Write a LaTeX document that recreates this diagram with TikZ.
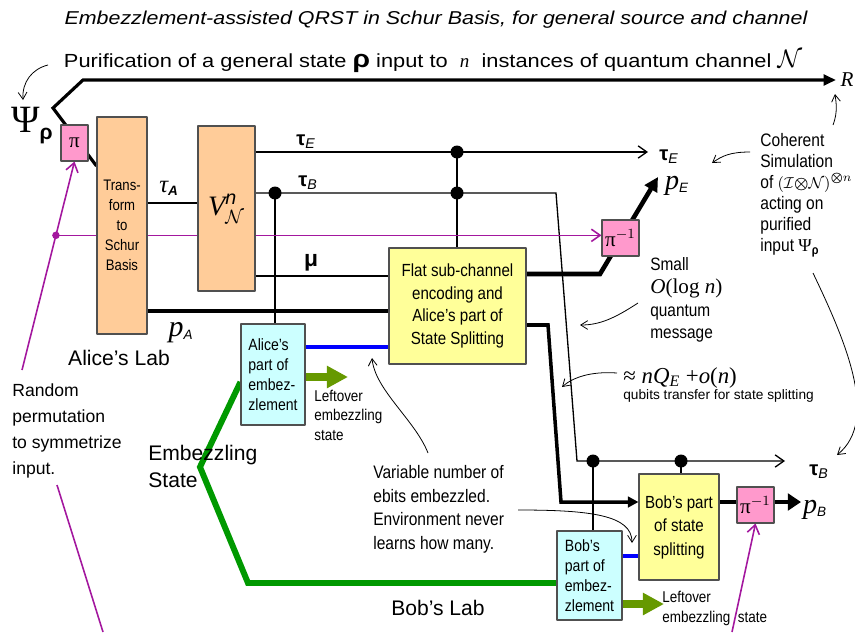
\documentclass[tikz,border=0pt]{standalone}
\usepackage{fontspec}
\usepackage{amsmath,amssymb}
\setmainfont{Liberation Sans}
\newfontfamily\serif{Liberation Serif}
\newfontfamily\narrow[FakeStretch=0.86]{Liberation Sans}
\newfontfamily\wide[FakeStretch=1.15]{Liberation Sans}
\usetikzlibrary{arrows.meta,backgrounds}
\definecolor{peach}{HTML}{FFCC99}
\definecolor{lemon}{HTML}{FFFF99}
\definecolor{ice}{HTML}{CCFFFF}
\definecolor{rose}{HTML}{FF99CC}
\definecolor{plum}{HTML}{A3179E}
\definecolor{leaf}{HTML}{009900}
\definecolor{olive}{HTML}{669900}
\definecolor{edge}{HTML}{505050}
\begin{document}
\begin{tikzpicture}[x=0.02cm, y=-0.02cm, line join=round,
  >={Straight Barb[length=5pt,width=7pt]},
  wire/.style={line width=0.75pt},
  fat/.style={line width=2.6pt},
  note/.style={line width=0.45pt, >={Straight Barb[length=4pt,width=5pt]}, ->},
  mag/.style={plum, line width=0.9pt},
  blk/.style={draw=edge, line width=0.6pt, inner sep=0pt, align=center},
  sch/.style={blk, fill=peach},
  flt/.style={blk, fill=lemon},
  emb/.style={blk, fill=ice},
  perm/.style={blk, fill=rose, font=\serif\fontsize{12}{12}\selectfont},
  txt/.style={inner sep=0pt, anchor=north west, align=left}]
\useasboundingbox (0,0) rectangle (855,632);
\coordinate (fork) at (53,108);
\coordinate (kink) at (83,80);
\coordinate (Rend) at (836,80);
\coordinate (yFork) at (0,166);
\coordinate (yTA) at (0,203);
\coordinate (yTE) at (0,152);
\coordinate (yTB) at (0,193);
\coordinate (yMu) at (0,276);
\coordinate (yPA) at (0,311);
\coordinate (yPE) at (0,274);
\coordinate (yPB) at (0,325);
\coordinate (yBA) at (0,347);
\coordinate (yGA) at (0,382);
\coordinate (yOA) at (0,377);
\coordinate (yBob) at (0,502);
\coordinate (yBB) at (0,556);
\coordinate (yGB) at (0,583);
\coordinate (yOB) at (0,604);
\coordinate (teEnd) at (648,152);
\coordinate (tbA) at (556,193);
\coordinate (tbB) at (577,461);
\coordinate (tbEnd) at (785,461);
\coordinate (peK) at (600,274);
\coordinate (peEnd) at (658,177);
\coordinate (pbK1) at (548,325);
\coordinate (pbK2) at (561,502);
\coordinate (pbEnd) at (801,502);
\coordinate (gV) at (200,467);
\coordinate (gC) at (248,583);
\coordinate (oAend) at (348,377);
\coordinate (oBend) at (664,604);
\coordinate (dA) at (275,193);
\coordinate (dE1) at (457,152);
\coordinate (dE2) at (457,193);
\coordinate (dB1) at (593,461);
\coordinate (dB2) at (681,461);
\coordinate (rp) at (22,370);
\coordinate (m1) at (57,485);
\coordinate (m2) at (103,632);
\coordinate (m3) at (732,632);

\node[perm, minimum width=0.54cm, minimum height=0.72cm] (pi) at (74.5,143) {π};
\node[sch, minimum width=1cm, minimum height=4.34cm, font=\narrow\fontsize{8.7}{11.4}\selectfont] (schur) at (122,225.5) {Trans-\\form\\to\\Schur\\Basis};
\node[sch, minimum width=1.14cm, minimum height=3.3cm, font=\fontsize{16}{16}\selectfont] (chan) at (226.5,208.5) {{\serif\itshape V}$_{\mathcal N}^{\textit{n}}$};
\node[flt, minimum width=2.74cm, minimum height=2.32cm, font=\narrow\fontsize{10}{13}\selectfont] (flat) at (457.5,306) {Flat sub-channel\\encoding and\\Alice’s part of\\State Splitting};
\node[emb, minimum width=1.28cm, minimum height=2.02cm, align=left, font=\narrow\fontsize{9.3}{11.4}\selectfont] (aemb) at (273,374.5) {Alice’s\\part of\\embez-\\zlement};
\node[perm, minimum width=0.74cm, minimum height=0.72cm] (pinvE) at (620.5,238) {π$^{-1}$};
\node[flt, minimum width=1.6cm, minimum height=2.12cm, font=\narrow\fontsize{10}{13.4}\selectfont] (bss) at (679,527) {Bob’s part\\of state\\splitting};
\node[emb, minimum width=1.3cm, minimum height=1.78cm, align=left, font=\narrow\fontsize{9.3}{11.4}\selectfont] (bemb) at (589.5,575.5) {Bob’s\\part of\\embez-\\zlement};
\node[perm, minimum width=0.74cm, minimum height=0.72cm] (pinvB) at (755.5,505) {π$^{-1}$};

\path (rp) -- (pi.south) coordinate[pos=0.646] (mDot);

\begin{scope}[on background layer]
\draw[line width=1.8pt, -{Triangle[length=7pt,width=6pt]}] (schur.west |- yFork) -- (fork) -- (kink) -- (Rend);
\draw[wire] (schur.east |- yTA) -- (chan.west |- yTA);
\draw[wire, ->] (chan.east |- yTE) -- (teEnd);
\draw[wire, ->] (chan.east |- yTB) -- (tbA) -- (tbB) -- (tbEnd);
\draw[wire] (chan.east |- yMu) -- (flat.west |- yMu);
\draw[wire] (dA) -- (dA |- aemb.north);
\draw[wire] (dE1) -- (dE1 |- flat.north);
\draw[wire] (dB1) -- (dB1 |- bemb.north);
\draw[wire] (dB2) -- (dB2 |- bss.north);
\draw[fat, line width=2.8pt] (schur.east |- yPA) -- (flat.west |- yPA);
\draw[fat, -{Triangle[length=8pt,width=8pt]}] (flat.east |- yPE) -- (peK) -- (peEnd);
\draw[fat, line width=2pt, -{Triangle[length=6pt,width=6pt]}] (flat.east |- yPB) -- (pbK1) -- (pbK2) -- (bss.west |- yBob);
\draw[fat] (bss.east |- yBob) -- (pinvB.west |- yBob);
\draw[fat, -{Triangle[length=7.5pt,width=9.5pt]}] (pinvB.east |- yBob) -- (pbEnd);
\draw[blue, line width=2.6pt] (aemb.east |- yBA) -- (flat.west |- yBA);
\draw[blue, line width=2.6pt] (bemb.east |- yBB) -- (bss.west |- yBB);
\draw[leaf, line width=3.4pt] (aemb.west |- yGA) -- (gV) -- (gC) -- (bemb.west |- yGB);
\draw[olive, line width=4.5pt, -{Triangle[length=12pt,width=12pt]}] (aemb.east |- yOA) -- (oAend);
\draw[olive, line width=4.5pt, -{Triangle[length=12pt,width=12pt]}] (bemb.east |- yOB) -- (oBend);
\draw[mag, ->] (rp) -- (pi.south);
\draw[mag, ->] (mDot) -- (pinvE.west |- mDot);
\draw[mag] (m1) -- (m2);
\draw[mag, ->] (m3) -- (pinvB.south);
\fill[plum] (mDot) circle[radius=0.075cm];
\fill (dA) circle[radius=0.13cm];
\fill (dE1) circle[radius=0.13cm];
\fill (dE2) circle[radius=0.13cm];
\fill (dB1) circle[radius=0.13cm];
\fill (dB2) circle[radius=0.13cm];
\end{scope}

\node[font=\wide\itshape\fontsize{10.6}{12}\selectfont] (title) at (436,20) {Embezzlement-assisted QRST in Schur Basis, for general source and channel};
\node[font=\wide\fontsize{10.8}{13}\selectfont] (purif) at (433,61) {Purification of a general state {\fontsize{14}{14}\selectfont\bfseries ρ} input to \ {\serif\itshape n}\ \ instances of quantum channel {\fontsize{14}{14}\selectfont$\mathcal N$}};
\node[inner sep=0pt] (psi) at (32,126) {{\serif\fontsize{22}{22}\selectfont Ψ}{\fontsize{12}{12}\selectfont\bfseries\raisebox{-4pt}{ρ}}};
\node[inner sep=0pt] (R) at (847,80) {{\serif\itshape\fontsize{12}{12}\selectfont R}};
\node[font=\fontsize{11}{11}\selectfont] (tauA) at (169,188) {{\serif\itshape\fontsize{14}{14}\selectfont τ}\textsubscript{\bfseries\itshape A}};
\node[font=\fontsize{11.5}{11.5}\selectfont] (tauE) at (306,142) {{\bfseries τ}\textsubscript{\itshape E}};
\node[font=\fontsize{11.5}{11.5}\selectfont] (tauB) at (308,183) {{\bfseries τ}\textsubscript{\itshape B}};
\node[font=\fontsize{13}{13}\selectfont] (mu) at (311,263) {\bfseries μ};
\node[font=\fontsize{11}{11}\selectfont] (pA) at (181,333) {{\serif\itshape\fontsize{17}{17}\selectfont p}\textsubscript{\itshape A}};
\node[font=\fontsize{12}{12}\selectfont] (alab) at (119,358) {Alice’s Lab};
\node[font=\fontsize{11.5}{11.5}\selectfont] (tauEr) at (669,157) {{\bfseries τ}\textsubscript{\itshape E}};
\node[font=\fontsize{11}{11}\selectfont] (pE) at (677,186) {{\serif\itshape\fontsize{16}{16}\selectfont p}\textsubscript{\itshape E}};
\node[font=\fontsize{11.5}{11.5}\selectfont] (tauBr) at (819,472) {{\bfseries τ}\textsubscript{\itshape B}};
\node[font=\fontsize{11}{11}\selectfont] (pB) at (815,510) {{\serif\itshape\fontsize{16}{16}\selectfont p}\textsubscript{\itshape B}};
\node[font=\fontsize{12}{12}\selectfont] (blab) at (438,608) {Bob’s Lab};
\node[txt, font=\fontsize{10}{14.8}\selectfont] (rand) at (12,383) {Random\\permutation\\to symmetrize\\input.};
\node[txt, font=\fontsize{12}{15.5}\selectfont] (estate) at (148,445) {Embezzling\\State};
\node[txt, font=\narrow\fontsize{10.3}{13.4}\selectfont] (varb) at (373,465) {Variable number of\\ebits embezzled.\\Environment never\\learns how many.};
\node[txt, font=\narrow\fontsize{8.9}{11}\selectfont] (leftA) at (314,390) {Leftover\\embezzling\\state};
\node[txt, font=\narrow\fontsize{8.9}{11.5}\selectfont] (leftB) at (662,591) {Leftover\\embezzling\ \ state};
\node[txt, font=\narrow\fontsize{10.2}{13}\selectfont] (small) at (650,257) {Small\\{\serif\fontsize{12}{12}\selectfont\itshape O\upshape(log \itshape n\upshape)}\\quantum\\message};
\node[txt, font=\narrow\fontsize{10.3}{12}\selectfont] (coh) at (760,133) {Coherent\\Simulation\\of {\fontsize{9.5}{9.5}\selectfont$(\mathcal I{\boldsymbol{\otimes}}\mathcal N)^{\boldsymbol{\otimes} n}$}\\acting on\\purified\\input {\serif Ψ}\textsubscript{\bfseries ρ}};
\node[inner sep=0pt, anchor=west, font=\serif\fontsize{13}{13}\selectfont] (apx) at (623,378) {≈ \itshape nQ\textsubscript{E} \upshape+\itshape o\upshape(\itshape n\upshape)};
\node[inner sep=0pt, anchor=west, font=\fontsize{7.8}{9}\selectfont] (qub) at (623,396) {qubits transfer for state splitting};

\coordinate (c1) at (48,65);
\coordinate (c1t) at (23,100);
\coordinate (vA) at (428,453);
\coordinate (vAt) at (372,358);
\coordinate (vB) at (518,510);
\coordinate (vBt) at (632,543);
\coordinate (sm) at (638,303);
\coordinate (smt) at (580,325);
\coordinate (ap) at (617,373);
\coordinate (apt) at (562,387);
\coordinate (co1) at (750,152);
\coordinate (co1t) at (712,163);
\coordinate (co2) at (833,125);
\coordinate (co2t) at (835,94);
\coordinate (co3) at (813,273);
\coordinate (co3t) at (837,455);
\draw[note] (c1) .. controls (32,69) and (22,82) .. (c1t);
\draw[note] (vA) .. controls (415,420) and (375,390) .. (vAt);
\draw[note] (vB) .. controls (590,510) and (632,515) .. (vBt);
\draw[note] (sm) .. controls (615,318) and (600,325) .. (smt);
\draw[note] (ap) .. controls (590,371) and (572,378) .. (apt);
\draw[note] (co1) .. controls (730,152) and (722,156) .. (co1t);
\draw[note] (co2) .. controls (838,112) and (836,102) .. (co2t);
\draw[note] (co3) .. controls (845,340) and (880,420) .. (co3t);
\end{tikzpicture}
\end{document}
